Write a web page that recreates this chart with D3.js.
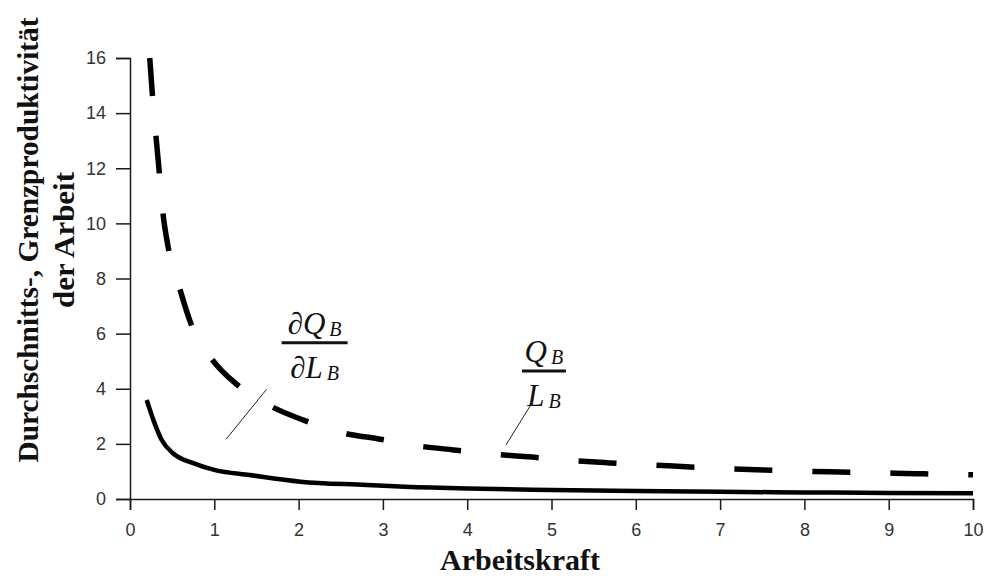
<!DOCTYPE html>
<html>
<head>
<meta charset="utf-8">
<script src="https://cdn.jsdelivr.net/npm/d3@7"></script>
<style>
  body { margin: 0; background: #fff; }
  .axis .tick text { font-family: "Liberation Sans", Arial, sans-serif; font-size: 18px; fill: #333; }
  .axis path, .axis line { stroke: #1a1a1a; stroke-width: 1.5; }
  .title { font-family: "Liberation Serif", "Times New Roman", serif; font-weight: bold; fill: #111; }
  .frac { font-family: "Liberation Serif", "Times New Roman", serif; font-style: italic; fill: #111; }
</style>
</head>
<body>
<div id="chart"></div>
<script>
// Durchschnittsprodukt Q_B / L_B (dashed curve)
const apX = [0.234, 0.265, 0.31, 0.34, 0.386, 0.455, 0.593, 0.718, 0.98, 1.27, 1.68, 2.05, 2.55, 2.95,
             3.43, 3.84, 4.34, 4.77, 5.25, 5.69, 6.16, 6.6, 7.06, 7.52, 7.98, 8.42, 8.88, 9.33, 9.81, 10];
const apY = [16.0, 14.7, 13.1, 12.1, 10.5, 9.1, 7.6, 6.4, 5.04, 4.15, 3.35, 2.87, 2.38, 2.18,
             1.92, 1.78, 1.62, 1.52, 1.39, 1.31, 1.24, 1.17, 1.10, 1.05, 1.01, 0.98, 0.95, 0.92, 0.89, 0.88];

// Grenzprodukt dQ_B / dL_B (solid curve)
const mpX = [0.198, 0.277, 0.376, 0.51, 0.75, 1.01, 1.42, 2.02, 2.81, 3.2, 4, 5, 6, 7, 8, 9, 10];
const mpY = [3.59, 2.87, 2.14, 1.66, 1.30, 1.05, 0.87, 0.63, 0.51, 0.45, 0.38, 0.33, 0.29, 0.26, 0.24, 0.22, 0.21];

const xTicks = [0, 1, 2, 3, 4, 5, 6, 7, 8, 9, 10];
const yTicks = [0, 2, 4, 6, 8, 10, 12, 14, 16];

// fraction labels: centre x, bar y (data units), leader line from/to
const labelX = [2.19, 4.91];
const labelBarY = [5.67, 4.64];
const labelNum = [["∂", "Q", "B"], ["", "Q", "B"]];
const labelDen = [["∂", "L", "B"], ["", "L", "B"]];
const leaderFrom = [[1.62, 3.98], [4.765, 3.47]];
const leaderTo = [[1.14, 2.17], [4.46, 1.96]];

const width = 988, height = 583;
const margin = {top: 58, right: 15, bottom: 84, left: 130};

const svg = d3.select('#chart').append('svg')
    .attr('width', width)
    .attr('height', height);

const x = d3.scaleLinear().domain([0, 10]).range([margin.left, width - margin.right]);
const y = d3.scaleLinear().domain([0, 16]).range([height - margin.bottom, margin.top]);

// Axes
svg.append('g')
    .attr('class', 'axis')
    .attr('transform', `translate(0,${y(0)})`)
    .call(d3.axisBottom(x).tickValues(xTicks).tickSize(11).tickPadding(13).tickFormat(d3.format('d')));

svg.append('g')
    .attr('class', 'axis')
    .attr('transform', `translate(${x(0)},0)`)
    .call(d3.axisLeft(y).tickValues(yTicks).tickSize(14).tickPadding(10).tickFormat(d3.format('d')));

// Curves
const line = d3.line()
    .x(d => x(d[0]))
    .y(d => y(d[1]))
    .curve(d3.curveMonotoneX);

svg.append('path')
    .datum(mpX.map((v, i) => [v, mpY[i]]))
    .attr('d', line)
    .attr('fill', 'none')
    .attr('stroke', '#000')
    .attr('stroke-width', 4.5);

svg.append('path')
    .datum(apX.map((v, i) => [v, apY[i]]))
    .attr('d', line)
    .attr('fill', 'none')
    .attr('stroke', '#000')
    .attr('stroke-width', 5.5)
    .attr('stroke-dasharray', '38 40');

// Leader lines
svg.selectAll('.leader')
    .data(leaderFrom)
    .join('line')
    .attr('class', 'leader')
    .attr('x1', d => x(d[0]))
    .attr('y1', d => y(d[1]))
    .attr('x2', (d, i) => x(leaderTo[i][0]))
    .attr('y2', (d, i) => y(leaderTo[i][1]))
    .attr('stroke', '#222')
    .attr('stroke-width', 1);

// Fraction labels
function writeParts(text, parts) {
    if (parts[0]) text.append('tspan').style('font-style', 'normal').text(parts[0]);
    text.append('tspan').text(parts[1]);
    text.append('tspan').attr('font-size', 20).attr('dx', 4).attr('dy', 2).text(parts[2]);
}

labelX.forEach((lx, i) => {
    const cx = x(lx), by = y(labelBarY[i]);
    svg.append('line')
        .attr('x1', cx - 33 + (i ? 11 : 0)).attr('x2', cx + 33 - (i ? 11 : 0))
        .attr('y1', by).attr('y2', by)
        .attr('stroke', '#111').attr('stroke-width', 3);
    const num = svg.append('text').attr('class', 'frac')
        .attr('x', cx).attr('y', by - 9)
        .attr('text-anchor', 'middle').attr('font-size', 31);
    writeParts(num, labelNum[i]);
    const den = svg.append('text').attr('class', 'frac')
        .attr('x', cx).attr('y', by + 35)
        .attr('text-anchor', 'middle').attr('font-size', 31);
    writeParts(den, labelDen[i]);
});

// Axis titles
svg.append('text')
    .attr('class', 'title')
    .attr('x', 520)
    .attr('y', 570)
    .attr('text-anchor', 'middle')
    .attr('font-size', 30)
    .text('Arbeitskraft');

const yTitle = svg.append('g').attr('transform', 'translate(0,240) rotate(-90)');
yTitle.append('text')
    .attr('class', 'title')
    .attr('x', 0).attr('y', 38)
    .attr('text-anchor', 'middle')
    .attr('font-size', 30)
    .attr('textLength', 445)
    .attr('lengthAdjust', 'spacingAndGlyphs')
    .text('Durchschnitts-, Grenzproduktivität');
yTitle.append('text')
    .attr('class', 'title')
    .attr('x', 0).attr('y', 74)
    .attr('text-anchor', 'middle')
    .attr('font-size', 30)
    .attr('textLength', 136)
    .attr('lengthAdjust', 'spacingAndGlyphs')
    .text('der Arbeit');
</script>
</body>
</html>
